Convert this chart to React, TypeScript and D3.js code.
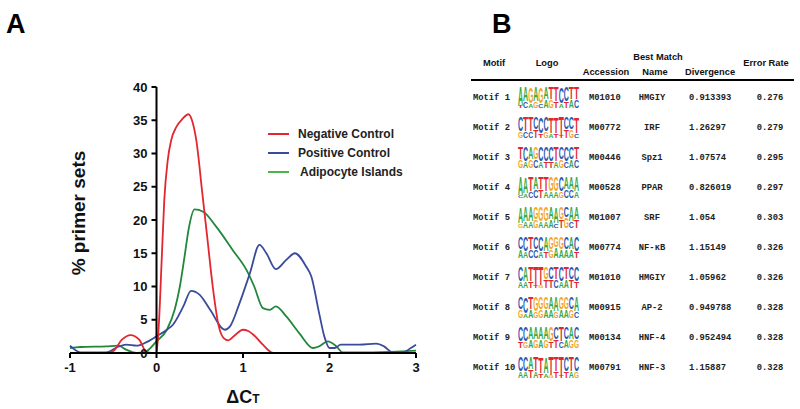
import React from 'react';
import * as d3 from 'd3';

// ---------- Panel A data ----------
const seriesNames = ['Negative Control', 'Positive Control', 'Adipocyte Islands'];
const lineColors = ['#e3262f', '#3a4b9c', '#23873a'];
const legendColors = ['#e3262f', '#3a4b9c', '#4cb548'];

const negX = [-1, -0.6, -0.5, -0.4, -0.3, -0.2, -0.12, -0.05, 0, 0.03, 0.06, 0.09, 0.13, 0.17, 0.23, 0.3, 0.37, 0.41, 0.46, 0.53, 0.59, 0.65, 0.72, 0.78, 0.83, 0.9, 1.0, 1.06, 1.12, 1.23, 1.35, 1.5, 3];
const negY = [0, 0, 0.3, 2.0, 2.7, 2.0, 0.2, 0, 0, 5, 14, 23, 29, 32, 34, 35.2, 35.9, 35, 32, 24, 17, 10, 4, 2.2, 1.9, 2.6, 3.5, 3.3, 2.75, 1.25, 0, 0, 0];

const posX = [-1, -0.88, -0.58, -0.45, -0.35, -0.23, -0.12, 0, 0.12, 0.19, 0.31, 0.4, 0.5, 0.62, 0.79, 0.85, 0.96, 1.08, 1.19, 1.27, 1.38, 1.5, 1.6, 1.73, 1.79, 1.88, 1.94, 2.0, 2.06, 2.13, 2.35, 2.54, 2.63, 2.73, 2.85, 2.94, 3.0];
const posY = [1.1, 0.1, 0.1, 0.9, 1.25, 1.1, 1.6, 2.5, 3.5, 4.25, 7, 9.35, 8.75, 6.5, 3.5, 4, 7.5, 12, 16.25, 15, 12.6, 14, 15, 13, 11.5, 6, 2.5, 0.75, 0.75, 1.25, 1.25, 1.4, 1.0, 0.1, 0.1, 0.75, 1.25];

const adiX = [-1, -0.88, -0.58, -0.44, -0.35, -0.23, -0.12, 0, 0.12, 0.21, 0.27, 0.33, 0.37, 0.44, 0.54, 0.69, 0.88, 1.04, 1.13, 1.23, 1.31, 1.38, 1.5, 1.65, 1.81, 1.88, 1.98, 2.08, 2.15, 2.5, 3.0];
const adiY = [0.75, 0.9, 1.0, 1.1, 0.5, 0, 0.25, 1.75, 3.5, 6.5, 10, 15, 18.5, 21.6, 21.25, 19, 15.5, 12.5, 10, 6.75, 6.5, 7, 5.5, 3, 0.75, 1, 1.75, 1, 0.1, 0.1, 0.35];

const xTicks = [-1, 0, 1, 2, 3];
const yTicks = [0, 5, 10, 15, 20, 25, 30, 35, 40];

// ---------- Panel B data ----------
const motifs = ['Motif 1', 'Motif 2', 'Motif 3', 'Motif 4', 'Motif 5', 'Motif 6', 'Motif 7', 'Motif 8', 'Motif 9', 'Motif 10'];
const accessions = ['M01010', 'M00772', 'M00446', 'M00528', 'M01007', 'M00774', 'M01010', 'M00915', 'M00134', 'M00791'];
const matchNames = ['HMGIY', 'IRF', 'Spz1', 'PPAR', 'SRF', 'NF-κB', 'HMGIY', 'AP-2', 'HNF-4', 'HNF-3'];
const divergences = ['0.913393', '1.26297', '1.07574', '0.826019', '1.054', '1.15149', '1.05962', '0.949788', '0.952494', '1.15887'];
const errorRates = ['0.276', '0.279', '0.295', '0.297', '0.303', '0.326', '0.326', '0.328', '0.328', '0.328'];

const logoTop = ['AAGAGATTCCTT', 'CTTCCCTTTCCT', 'TCAGCCCTCCCT', 'AATATTGGCAAA', 'AAAGGGAAGCAA', 'CCTCCAGGGCAC', 'CATTTGCTCTCC', 'CCTGGGAAGGCA', 'CCAAAAGCTCAC', 'CCATTATTTCTC'];
const logoBot = ['TCAGCAGTATAC', 'GCCTTGATTTGC', 'GAGCATTAGCAC', 'CACCTAAAGCCA', 'GAAGAAACTGCT', 'AACCATGAAAAT', 'AATTGTTCAATT', 'GAAGGAAGAAGC', 'TGAGAGTTCAGG', 'AATATAGTTTAG'];
const logoShare = ['978786678766', '777687889668', '676677776766', '987667777667', '877677686576', '676677656667', '777996667667', '686766676667', '776666767666', '776788979777'];

const letterColors: Record<string, string> = { A: '#3aa845', C: '#2c55b0', G: '#f2a41e', T: '#e1262d' };

const SANS = "Arial, 'Liberation Sans', Helvetica, sans-serif";
const MONO = "'Courier New', 'Liberation Mono', monospace";

export default function App() {
  const x = d3.scaleLinear().domain([-1, 3]).range([70, 416]);
  const y = d3.scaleLinear().domain([0, 40]).range([353, 87]);
  const line = d3
    .line<[number, number]>()
    .x((d) => x(d[0]))
    .y((d) => y(d[1]))
    .curve(d3.curveMonotoneX);
  const series: [number, number][][] = [
    negX.map((v, i) => [v, negY[i]] as [number, number]),
    posX.map((v, i) => [v, posY[i]] as [number, number]),
    adiX.map((v, i) => [v, adiY[i]] as [number, number]),
  ];
  const drawOrder = [2, 1, 0];

  const legendY = d3.scalePoint<string>().domain(seriesNames).range([134, 172]);

  // table scales
  const rowY = d3.scalePoint<string>().domain(motifs).range([97, 367]);
  const logoX = d3.scaleBand<number>().domain(d3.range(12)).range([518, 579]).padding(0);
  const logoH = d3.scaleLinear().domain([0, 1]).range([0, 21]);
  const CAP = 0.716;

  const renderLetter = (ch: string, x0: number, w: number, yBottom: number, h: number, key: string) => {
    if (h < 0.8) return null;
    const fs = h / CAP;
    return (
      <text
        key={key}
        x={x0}
        y={yBottom}
        fontSize={fs}
        fontFamily={SANS}
        fontWeight="bold"
        fill={letterColors[ch]}
        textLength={w}
        lengthAdjust="spacingAndGlyphs"
      >
        {ch}
      </text>
    );
  };

  return (
    <svg
      width={800}
      height={409}
      style={{ position: 'absolute', left: 0, top: 0, background: '#fff' }}
    >
      <rect x={0} y={0} width={800} height={409} fill="#fff" />
      {/* Panel labels */}
      <text x={6} y={33} fontSize={27} fontWeight="bold" fontFamily={SANS}>A</text>
      <text x={492} y={33} fontSize={27} fontWeight="bold" fontFamily={SANS}>B</text>

      {/* Lines */}
      {drawOrder.map((i) => (
        <path key={i} d={line(series[i]) || ''} fill="none" stroke={lineColors[i]} strokeWidth={1.8} strokeLinejoin="round" />
      ))}

      {/* Axes */}
      <line x1={x(0)} x2={x(0)} y1={y(40)} y2={y(0) + 1} stroke="#000" strokeWidth={2} />
      <line x1={x(-1)} x2={x(3)} y1={y(0)} y2={y(0)} stroke="#000" strokeWidth={2} />
      {yTicks.map((t) => (
        <g key={'yt' + t}>
          <line x1={x(0) - 5} x2={x(0)} y1={y(t)} y2={y(t)} stroke="#000" strokeWidth={2} />
          <text x={x(0) - 9} y={y(t) + 4.5} textAnchor="end" fontSize={13} fontWeight="bold" fontFamily={SANS} fill="#111">{t}</text>
        </g>
      ))}
      {xTicks.map((t) => (
        <g key={'xt' + t}>
          <line x1={x(t)} x2={x(t)} y1={y(0)} y2={y(0) + 5} stroke="#000" strokeWidth={2} />
          <text x={x(t)} y={y(0) + 19} textAnchor="middle" fontSize={13} fontWeight="bold" fontFamily={SANS} fill="#111">{t}</text>
        </g>
      ))}
      <text
        transform="translate(85,213) rotate(-90)"
        textAnchor="middle"
        fontSize={19}
        fontWeight="bold"
        fontFamily={SANS}
        fill="#111"
      >
        % primer sets
      </text>
      <text x={243} y={403} textAnchor="middle" fontWeight="bold" fontFamily={SANS} fill="#111">
        <tspan fontSize={18}>ΔC</tspan>
        <tspan fontSize={12}>T</tspan>
      </text>

      {/* Legend */}
      {seriesNames.map((n, i) => (
        <g key={n}>
          <line x1={268} x2={289} y1={legendY(n)!} y2={legendY(n)!} stroke={legendColors[i]} strokeWidth={2} />
          <text x={i === 2 ? 300 : 298} y={(legendY(n) as number) + 4.3} fontSize={12} fontWeight="bold" fontFamily={SANS} fill="#222">{n}</text>
        </g>
      ))}

      {/* Table header */}
      <g fontFamily={SANS} fontWeight="bold" fontSize={9.3} fill="#111" textAnchor="middle">
        <text x={494} y={66}>Motif</text>
        <text x={547} y={66}>Logo</text>
        <text x={658} y={60}>Best Match</text>
        <text x={606} y={74.5}>Accession</text>
        <text x={655} y={74.5}>Name</text>
        <text x={710} y={74.5}>Divergence</text>
        <text x={766} y={65.5}>Error Rate</text>
      </g>
      <line x1={471} x2={794} y1={80} y2={80} stroke="#000" strokeWidth={2} />

      {/* Table rows */}
      {motifs.map((m, r) => {
        const cy = rowY(m) as number;
        const top = logoTop[r];
        const bot = logoBot[r];
        const share = logoShare[r];
        const yBase = cy + 10.5;
        return (
          <g key={m}>
            <g fontFamily={MONO} fontWeight="bold" fontSize={8.8} fill="#222">
              <text x={473} y={cy + 3}>{m}</text>
              <text x={589} y={cy + 3}>{accessions[r]}</text>
              <text x={652} y={cy + 3} textAnchor="middle">{matchNames[r]}</text>
              <text x={689} y={cy + 3}>{divergences[r]}</text>
              <text x={770} y={cy + 3} textAnchor="middle">{errorRates[r]}</text>
            </g>
            {d3.range(12).map((p) => {
              const s = +share[p] / 10;
              const hTop = logoH(s);
              const hBot = logoH(1 - s);
              const x0 = logoX(p) as number;
              const w = logoX.bandwidth();
              return (
                <g key={p}>
                  {renderLetter(bot[p], x0, w, yBase, hBot * 0.95, 'b')}
                  {renderLetter(top[p], x0, w, yBase - hBot, hTop * 0.97, 't')}
                </g>
              );
            })}
          </g>
        );
      })}
    </svg>
  );
}
